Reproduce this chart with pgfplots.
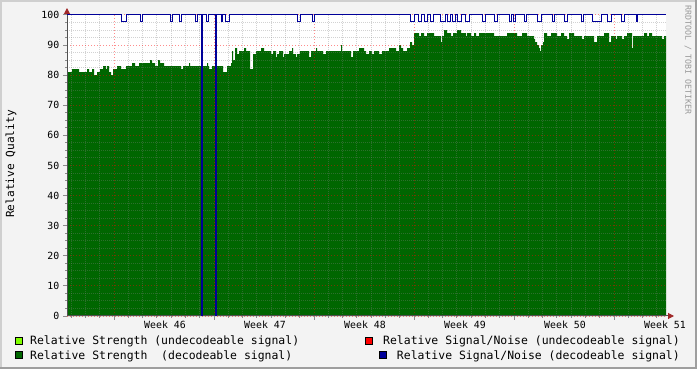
\documentclass[border=0pt]{standalone}
\usepackage{fontspec}
\setmonofont{DejaVu Sans Mono}
\usepackage{pgfplots}
\pgfplotsset{compat=1.18}
\usetikzlibrary{arrows.meta}
\definecolor{bgc}{HTML}{F3F3F3}
\definecolor{shadea}{HTML}{CFCFCF}
\definecolor{shadeb}{HTML}{9E9E9E}
\definecolor{dgreen}{HTML}{006600}
\definecolor{lgreen}{HTML}{80FF00}
\definecolor{sred}{HTML}{FF0000}
\definecolor{sblue}{HTML}{000099}
\definecolor{axiscol}{HTML}{505050}
\definecolor{arrowcol}{HTML}{A02828}
\newcommand{\tickfont}{\ttfamily\fontsize{9.9}{11}\selectfont}
\newcommand{\legfont}{\ttfamily\fontsize{11.5}{13}\selectfont}
\pgfplotsset{
  rrdframe/.style={
    at={(67bp,53bp)}, anchor=south west,
    scale only axis, width=599bp, height=301bp,
    xmin=0, xmax=599, ymin=0, ymax=100,
    clip=false,
  },
}
\begin{document}
\begin{tikzpicture}
\fill[bgc] (0,0) rectangle (697bp,369bp);
\fill[shadea] (0,0) rectangle (2bp,369bp);
\fill[shadea] (0,367bp) rectangle (697bp,369bp);
\fill[shadeb] (695bp,0) rectangle (697bp,369bp);
\fill[shadeb] (0,0) rectangle (697bp,2bp);
% axis 1: area, grid, ticks
\begin{axis}[
  rrdframe,
  axis on top,
  axis background/.style={fill=white},
  axis line style={draw=none},
  tick align=outside,
  xtick pos=bottom, ytick pos=left,
  major tick length=4bp, minor tick length=2bp,
  tick style={line width=1bp, draw=black!45},
  grid=both,
  major grid style={draw=sred, opacity=0.45, line width=1bp, dash pattern=on 1bp off 2bp},
  minor grid style={draw=black!50, opacity=0.35, line width=1bp, dash pattern=on 1bp off 1bp},
  xtick={47,147,247,347,447,547},
  xticklabels={,,,,,},
  minor xtick={4.14,18.43,32.71,61.29,75.57,89.86,104.14,118.43,132.71,161.29,175.57,189.86,204.14,218.43,232.71,261.29,275.57,289.86,304.14,318.43,332.71,361.29,375.57,389.86,404.14,418.43,432.71,461.29,475.57,489.86,504.14,518.43,532.71,561.29,575.57,589.86},
  extra x ticks={98,198,298,398,498,598},
  extra x tick labels={Week 46,Week 47,Week 48,Week 49,Week 50,Week 51},
  extra x tick style={grid=none, major tick length=0pt},
  xticklabel style={font=\tickfont, anchor=base, inner sep=0pt, yshift=-12bp},
  ytick={0,10,...,100},
  minor y tick num=3,
  yticklabel style={font=\tickfont, anchor=east, inner sep=0pt, xshift=-3.5bp},
  /pgf/number format/assume math mode=true,
]
\addplot[const plot, fill=dgreen, draw=none] coordinates {
(0,81)(5,82)(12,81)(20,82)(22,81)(25,82)(27,80)(30,81)(33,82)(36,83)(39,82)(40,83)(42,81)(44,80)(46,82)(50,83)(54,82)(59,83)(65,84)(68,83)(72,84)(83,85)(85,84)(88,83)(91,85)(93,84)(97,83)(114,82)(116,83)(122,84)(123,83)(140,84)(141,83)(142,82)(145,83)(156,81)(160,83)(164,84)(165,88)(166,85)(168,89)(170,87)(172,88)(177,89)(179,88)(183,82)(186,87)(189,88)(194,89)(197,88)(204,87)(206,88)(209,86)(210,87)(212,88)(216,86)(217,87)(222,88)(225,89)(226,87)(229,86)(230,87)(233,88)(242,86)(244,88)(249,89)(250,88)(256,87)(259,88)(274,90)(275,88)(284,86)(286,88)(292,89)(297,88)(299,87)(302,88)(305,87)(307,88)(312,87)(315,88)(322,89)(329,88)(332,90)(334,89)(336,88)(340,89)(343,91)(345,90)(347,94)(352,93)(354,94)(357,93)(360,94)(367,93)(374,91)(375,93)(377,95)(380,94)(384,93)(386,94)(390,95)(394,94)(399,93)(400,94)(404,93)(407,94)(409,93)(412,94)(427,93)(440,94)(450,93)(455,94)(460,93)(467,92)(468,91)(470,90)(472,89)(473,88)(474,90)(476,91)(477,94)(480,93)(484,94)(490,93)(494,94)(497,93)(500,92)(502,94)(507,93)(515,92)(517,93)(527,91)(530,93)(537,94)(542,91)(544,93)(549,92)(550,93)(555,92)(557,93)(560,94)(565,89)(566,93)(577,94)(580,93)(582,94)(585,93)(595,92)(597,93)(599,93)
} \closedcycle;
\end{axis}
% axis 2: line and axis lines with arrows
\begin{axis}[
  rrdframe,
  axis lines=left,
  axis line style={draw=axiscol, line width=1bp},
  x axis line style={-{Triangle[length=6bp,width=6bp,color=arrowcol]}, shorten >=-8bp},
  y axis line style={-{Triangle[length=6bp,width=6bp,color=arrowcol]}, shorten >=-7bp},
  xtick=\empty, ytick=\empty,
]
\addplot[const plot, draw=sblue, line width=1bp] coordinates {
(0,100)(54,98)(59,100)(73,98)(75,100)(103,98)(105,100)(112,98)(114,100)(128,98)(130,100)(134,0)(135.5,100)(139,98)(141,100)(148,0)(149.5,100)(154,98)(155,100)(158,98)(162,100)(230,98)(233,100)(245,98)(247,100)(343,98)(347,100)(351,98)(354,100)(357,98)(360,100)(363,98)(366,100)(373,98)(378,100)(380,98)(383,100)(385,98)(388,100)(390,98)(394,100)(398,98)(402,100)(415,98)(418,100)(427,98)(430,100)(442,98)(444,100)(446,98)(448,100)(457,98)(459,100)(470,98)(474,100)(485,98)(487,100)(497,98)(500,100)(514,98)(516,100)(525,98)(534,100)(540,98)(544,100)(554,98)(557,100)(569,98)(570,100)(599,100)
};
\end{axis}
\node[rotate=90, anchor=center, inner sep=0pt, font=\ttfamily\fontsize{11.2}{13}\selectfont] at (11bp,205bp) {Relative Quality};
\node[rotate=-90, anchor=west, inner sep=0pt, text=black!40, font=\ttfamily\fontsize{8.3}{10}\selectfont] at (688bp,364bp) {RRDTOOL / TOBI OETIKER};
% legend
\filldraw[fill=lgreen, draw=black, line width=0.8bp] (15.5bp,24.5bp) rectangle (22.5bp,32bp);
\node[anchor=base west, inner sep=0pt, font=\legfont] at (30bp,24.3bp) {Relative Strength (undecodeable signal)};
\filldraw[fill=dgreen, draw=black, line width=0.8bp] (15.5bp,10.2bp) rectangle (22.5bp,17.7bp);
\node[anchor=base west, inner sep=0pt, font=\legfont] at (30bp,10bp) {Relative Strength\ \ (decodeable signal)};
\filldraw[fill=sred, draw=black, line width=0.8bp] (365.5bp,24.5bp) rectangle (372.5bp,32bp);
\node[anchor=base east, inner sep=0pt, font=\legfont] at (680bp,24.3bp) {Relative Signal/Noise (undecodeable signal)};
\filldraw[fill=sblue, draw=black, line width=0.8bp] (379.8bp,10.2bp) rectangle (386.8bp,17.7bp);
\node[anchor=base east, inner sep=0pt, font=\legfont] at (680bp,10bp) {Relative Signal/Noise (decodeable signal)};
\end{tikzpicture}
\end{document}
